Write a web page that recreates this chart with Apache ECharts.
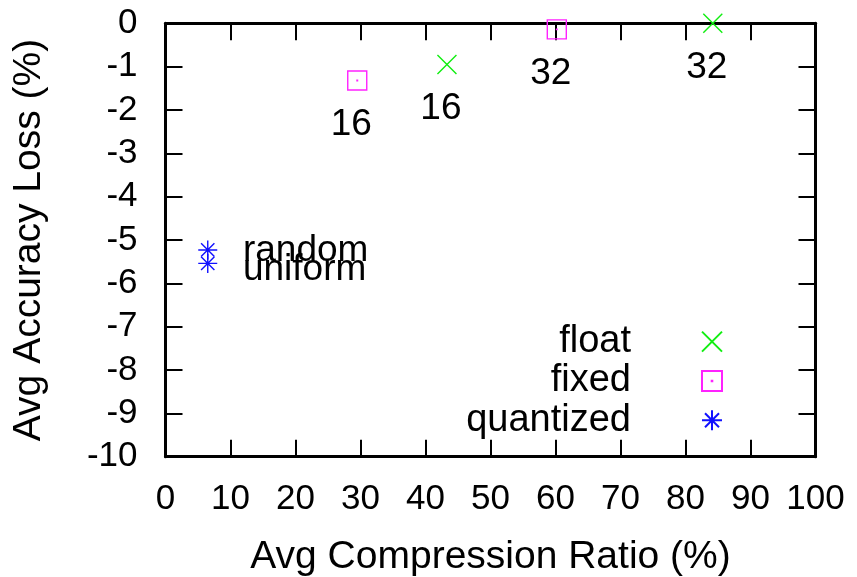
<!DOCTYPE html>
<html>
<head>
<meta charset="utf-8">
<script src="https://cdn.jsdelivr.net/npm/echarts@6/dist/echarts.min.js"></script>
<style>html,body{margin:0;padding:0;background:#fff}#c{width:857px;height:577px}</style>
</head>
<body>
<div id="c"></div>
<script>
// ---- data ----
const seriesNames = ['float', 'fixed', 'quantized'];
const floatPts = [[43.3, -0.95], [84.2, 0.0]];
const floatLabels = ['16', '32'];
const fixedPts = [[29.5, -1.32], [60.2, -0.14]];
const fixedLabels = ['16', '32'];
const quantPts = [[6.5, -5.23], [6.5, -5.54]];
const quantLabels = ['random', 'uniform'];
const xTickValues = [0, 10, 20, 30, 40, 50, 60, 70, 80, 90, 100];
const yTickValues = [-10, -9, -8, -7, -6, -5, -4, -3, -2, -1, 0];
const xTitle = 'Avg Compression Ratio (%)';
const yTitle = 'Avg Accuracy Loss (%)';

// ---- styling ----
const FONT = '"Liberation Sans", Arial, Helvetica, sans-serif';
const colors = ['#11ee11', '#ff22ff', '#1111ff'];
const symbols = [
  'path://M0,0L10,10M10,0L0,10',
  'path://M0,0H10V10H0ZM4.85,4.85H5.15V5.15H4.85Z',
  'path://M5,0V10M0,5H10M1.5,1.5L8.5,8.5M8.5,1.5L1.5,8.5'
];

function numItems(pts, labels) {
  return pts.map((p, i) => ({
    value: p,
    label: {show: true, formatter: labels[i], position: 'inside', offset: [-6, 44],
            color: '#000', fontSize: 37, fontFamily: FONT}
  }));
}
const quantOffsets = [[0, 1], [0, 6]];
function quantItems(pts, labels) {
  return pts.map((p, i) => ({
    value: p,
    label: {show: true, formatter: labels[i], position: 'right', distance: 25, offset: quantOffsets[i],
            color: '#000', fontSize: 37, fontFamily: FONT}
  }));
}

const dataSets = [numItems(floatPts, floatLabels), numItems(fixedPts, fixedLabels), quantItems(quantPts, quantLabels)];

const chart = echarts.init(document.getElementById('c'), null, {renderer: 'canvas'});
const axisLineStyle = {show: true, onZero: false, lineStyle: {color: '#000', width: 3}};
const tickStyle = {show: true, inside: true, length: 17, lineStyle: {color: '#000', width: 2}};

chart.setOption({
  animation: false,
  backgroundColor: '#fff',
  grid: {left: 165.5, top: 23.3, right: 41.5, bottom: 120.3, containLabel: false, outerBoundsMode: 'none'},
  legend: {
    orient: 'vertical', align: 'right', right: 134, top: 322, padding: 0,
    itemWidth: 20, itemHeight: 20, itemGap: 0,
    data: seriesNames,
    textStyle: {fontSize: 38, fontFamily: FONT, color: '#000', lineHeight: 39.3, padding: [0, 66, 0, 0]}
  },
  xAxis: [{
    type: 'value', min: xTickValues[0], max: xTickValues[xTickValues.length - 1], interval: 10,
    position: 'bottom', axisLine: axisLineStyle, axisTick: tickStyle, splitLine: {show: false},
    axisLabel: {margin: 25, fontSize: 35, fontFamily: FONT, color: '#000'},
    name: xTitle, nameLocation: 'middle', nameGap: 81,
    nameTextStyle: {fontSize: 39, fontFamily: FONT, color: '#000'}
  }, {
    type: 'value', min: xTickValues[0], max: xTickValues[xTickValues.length - 1], interval: 10,
    position: 'top', axisLine: axisLineStyle, axisTick: tickStyle, splitLine: {show: false},
    axisLabel: {show: false}
  }],
  yAxis: [{
    type: 'value', min: yTickValues[0], max: yTickValues[yTickValues.length - 1], interval: 1,
    position: 'left', axisLine: axisLineStyle, axisTick: tickStyle, splitLine: {show: false},
    axisLabel: {margin: 28, fontSize: 35, fontFamily: FONT, color: '#000'},
    name: yTitle, nameLocation: 'middle', nameGap: 117,
    nameTextStyle: {fontSize: 39, fontFamily: FONT, color: '#000'}
  }, {
    type: 'value', min: yTickValues[0], max: yTickValues[yTickValues.length - 1], interval: 1,
    position: 'right', axisLine: axisLineStyle, axisTick: tickStyle, splitLine: {show: false},
    axisLabel: {show: false}
  }],
  series: seriesNames.map((n, i) => ({
    name: n, type: 'scatter', xAxisIndex: 0, yAxisIndex: 0,
    symbol: symbols[i], symbolSize: 19, symbolKeepAspect: true,
    itemStyle: {color: 'rgba(0,0,0,0)', borderColor: colors[i], borderWidth: 1.4, opacity: 1},
    emphasis: {disabled: true},
    z: 5,
    data: dataSets[i]
  }))
});
</script>
</body>
</html>
